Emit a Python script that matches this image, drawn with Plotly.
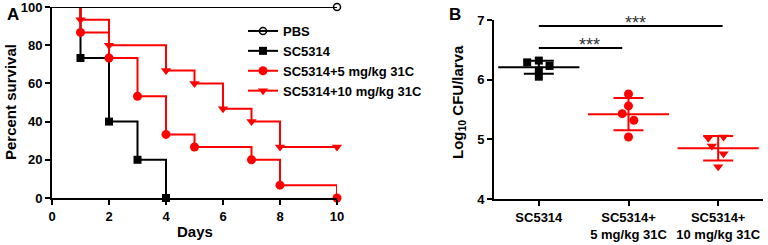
import numpy as np
import plotly.graph_objects as go

# ---------------- Panel A data (Kaplan-Meier survival) ----------------
days_pbs = [0, 10]
surv_pbs = [100, 100]
days_sc = [0, 1, 2, 3, 4]
surv_sc = [100, 73.3, 40, 20, 0]
days_5 = [0, 1, 2, 3, 4, 5, 7, 8, 10]
surv_5 = [100, 86.7, 73.3, 53.3, 33.3, 26.7, 20, 6.7, 0]
days_10 = [0, 1, 2, 4, 5, 6, 7, 8, 10]
surv_10 = [100, 93.3, 80, 66.7, 60, 46.7, 40, 26.7, 26.7]
series_names = ["PBS", "SC5314", "SC5314+5 mg/kg 31C", "SC5314+10 mg/kg 31C"]
surv_ticks = [0, 20, 40, 60, 80, 100]
day_ticks = [0, 2, 4, 6, 8, 10]

# ---------------- Panel B data (CFU) ----------------
groups = ["SC5314", "SC5314+<br>5 mg/kg 31C", "SC5314+<br>10 mg/kg 31C"]
cfu_sc = [6.29, 6.32, 6.23, 6.15, 6.05]
cfu_5 = [5.76, 5.56, 5.43, 5.32, 5.04]
cfu_10 = [5.02, 5.04, 4.89, 4.76, 4.54]
spread_sc = [-0.13, 0.0, 0.12, 0.0, 0.0]
spread_5 = [0.0, 0.0, -0.07, 0.06, 0.0]
spread_10 = [-0.11, 0.06, -0.07, 0.06, 0.0]
cfu_ticks = [4, 5, 6, 7]

FONT = "Liberation Sans, Arial, sans-serif"
RED = "#ff0000"
BLACK = "#000000"

fig = go.Figure()


def km(x, y, name, color, symbol, size, mline=0):
    # initial segment from (0,100) to first event
    fig.add_trace(go.Scatter(
        x=x[:2], y=y[:2], mode="lines", line=dict(shape="hv", color=color, width=2),
        showlegend=False, hoverinfo="skip", xaxis="x", yaxis="y", cliponaxis=False))
    fig.add_trace(go.Scatter(
        x=x[1:], y=y[1:], mode="lines+markers", name=name,
        line=dict(shape="hv", color=color, width=2),
        marker=dict(symbol=symbol, size=size, color=color,
                    line=dict(width=mline, color=color)),
        xaxis="x", yaxis="y", cliponaxis=False))


km(days_sc, surv_sc, series_names[1], BLACK, "square", 8)
km(days_5, surv_5, series_names[2], RED, "circle", 9)
km(days_10, surv_10, series_names[3], RED, "triangle-down", 9)
km(days_pbs, surv_pbs, series_names[0], BLACK, "circle-open", 7, mline=1.5)

# reorder legend: PBS first
fig.data[-1].legendrank = 1
fig.data[1].legendrank = 2
fig.data[3].legendrank = 3
fig.data[5].legendrank = 4

# ---------------- Panel B traces ----------------
def dots(i, vals, spread, color, symbol, size):
    fig.add_trace(go.Scatter(
        x=[i + s for s in spread], y=vals, mode="markers",
        marker=dict(symbol=symbol, size=size, color=color),
        showlegend=False, xaxis="x2", yaxis="y2", cliponaxis=False))
    m = float(np.mean(vals))
    sd = float(np.std(vals, ddof=1))
    fig.add_trace(go.Scatter(
        x=[i], y=[m], mode="markers",
        marker=dict(symbol="line-ew-open", size=58, color=color,
                    line=dict(width=2, color=color)),
        error_y=dict(type="data", array=[sd], symmetric=True, color=color,
                     thickness=2, width=15),
        showlegend=False, xaxis="x2", yaxis="y2", cliponaxis=False))


dots(0, cfu_sc, spread_sc, BLACK, "square", 8)
dots(1, cfu_5, spread_5, RED, "circle", 9)
dots(2, cfu_10, spread_10, RED, "triangle-down", 9)

W, H = 768, 245


def px(x):
    return x / W


def py(y):
    return 1 - y / H


axis_common = dict(
    showline=True, linecolor="black", linewidth=2, ticks="outside",
    ticklen=5, tickwidth=2, tickcolor="black", showgrid=False, zeroline=False,
    automargin=False, ticklabeloverflow="allow",
    tickfont=dict(family=FONT, size=13, color="black", weight="bold"),
)

fig.update_layout(
    width=W, height=H, margin=dict(l=0, r=0, t=0, b=0, autoexpand=False),
    paper_bgcolor="white", plot_bgcolor="white",
    font=dict(family=FONT, color="black"),
    xaxis=dict(domain=[px(52), px(337)], range=[0, 10], tickvals=day_ticks,
               anchor="y", **axis_common),
    yaxis=dict(domain=[py(198), py(7)], range=[-0.01, 100.01], tickvals=surv_ticks,
               anchor="x", **axis_common),
    xaxis2=dict(domain=[px(494), px(763)], range=[-0.5, 2.5], tickvals=[0, 1, 2],
                ticktext=groups, anchor="y2", **axis_common),
    yaxis2=dict(domain=[py(199), py(20)], range=[4, 7], tickvals=cfu_ticks,
                anchor="x2", **axis_common),
    legend=dict(x=px(243), y=py(16), xanchor="left", yanchor="top",
                bgcolor="rgba(0,0,0,0)", tracegroupgap=0,
                font=dict(family=FONT, size=13, color="black", weight="bold")),
    showlegend=True,
)

ann_font = dict(family=FONT, color="black", weight="bold")


def label(text, x, y, size, angle=0):
    fig.add_annotation(text=text, x=px(x), y=py(y), xref="paper", yref="paper",
                       xanchor="center", yanchor="middle", textangle=angle,
                       showarrow=False, font=dict(size=size, **ann_font))


label("A", 13, 15, 17)
label("B", 455, 15, 17)
label("Percent survival", 10, 102, 15, -90)
label("Days", 195, 231, 15)
label("Log<sub>10</sub> CFU/larva", 458, 102, 15, -90)

# significance bars
fig.add_shape(type="line", xref="x2", yref="y2", x0=0, x1=2.05, y0=6.9, y1=6.9,
              line=dict(color="black", width=2))
fig.add_shape(type="line", xref="x2", yref="y2", x0=0, x1=0.93, y0=6.53, y1=6.53,
              line=dict(color="black", width=2))
fig.add_annotation(text="***", x=1.075, y=6.9, xref="x2", yref="y2", yanchor="bottom",
                   yshift=-9, showarrow=False, font=dict(family=FONT, size=18, color="#333"))
fig.add_annotation(text="***", x=0.57, y=6.53, xref="x2", yref="y2", yanchor="bottom",
                   yshift=-9, showarrow=False, font=dict(family=FONT, size=18, color="#333"))

fig.write_html("out.html", config={"displayModeBar": False},
               post_script="document.body.style.margin='0';document.body.style.overflow='hidden';")
